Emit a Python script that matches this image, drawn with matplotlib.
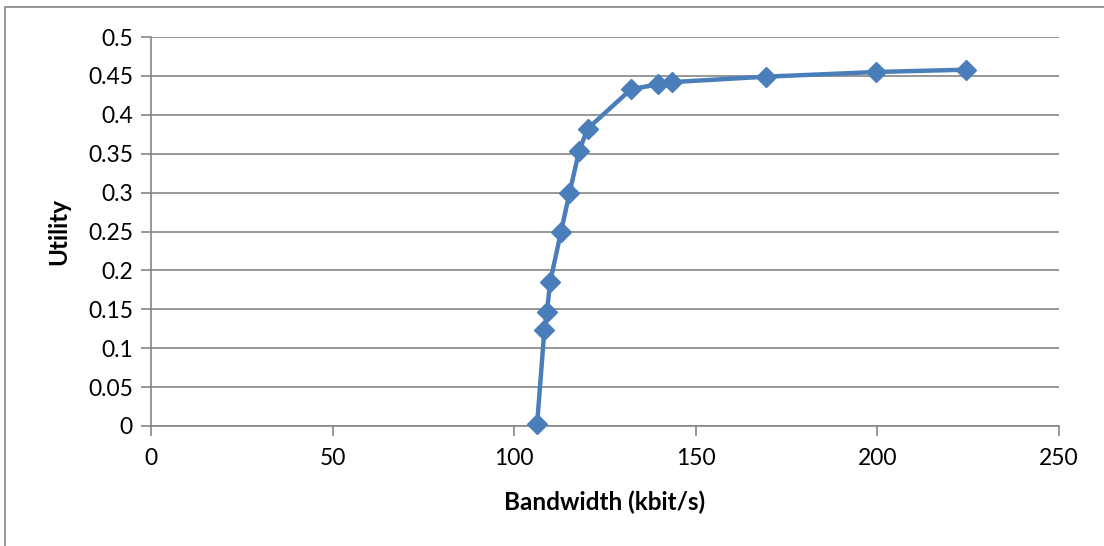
import matplotlib
matplotlib.use("Agg")
import matplotlib.pyplot as plt
from matplotlib.patches import Rectangle

# --- data ---
bandwidth = [106.3, 108.3, 109.0, 109.9, 112.9, 115.2, 117.9, 120.2,
             132.2, 139.6, 143.4, 169.3, 199.5, 224.5]
utility = [0.002, 0.123, 0.146, 0.185, 0.250, 0.299, 0.354, 0.382,
           0.433, 0.439, 0.442, 0.449, 0.455, 0.458]
x_ticks = [0, 50, 100, 150, 200, 250]
y_ticks = [0, 0.05, 0.1, 0.15, 0.2, 0.25, 0.3, 0.35, 0.4, 0.45, 0.5]
y_tick_labels = ["0", "0.05", "0.1", "0.15", "0.2", "0.25", "0.3", "0.35", "0.4", "0.45", "0.5"]

plt.rcParams['font.family'] = ['Lato', 'DejaVu Sans']

W, H = 1104, 546
fig = plt.figure(figsize=(W / 100, H / 100), dpi=100)

# chart-area frame (only left and top edges visible in the crop)
fig.patches.append(Rectangle((5 / W, -0.1), 1.2, 1 - 7 / H + 0.1,
                             transform=fig.transFigure, fill=False,
                             edgecolor='#8c8c8c', linewidth=1.3))

ax = fig.add_axes([151 / W, 1 - 426 / H, (1059 - 151) / W, (426 - 37) / H])

grid_col = '#868686'
ax.plot(bandwidth, utility, color='#4a7ebb', linewidth=3.2,
        marker='D', markersize=10, markerfacecolor='#4a7ebb',
        markeredgecolor='#4a7ebb', zorder=3, clip_on=False)

ax.set_xlim(0, 250)
ax.set_ylim(0, 0.5)
ax.set_xticks(x_ticks)
ax.set_yticks(y_ticks)
ax.set_yticklabels(y_tick_labels)
ax.yaxis.grid(True, color=grid_col, linewidth=1.2)
ax.set_axisbelow(True)

for s in ['top', 'right']:
    ax.spines[s].set_visible(False)
for s in ['left', 'bottom']:
    ax.spines[s].set_color(grid_col)
    ax.spines[s].set_linewidth(1.2)

ax.tick_params(axis='both', direction='out', length=7, width=1.2,
               color=grid_col, labelsize=16.5, labelcolor='black')
ax.tick_params(axis='y', pad=6)
ax.tick_params(axis='x', pad=9)

ax.set_xlabel("Bandwidth (kbit/s)", fontsize=17.5, fontweight='bold', labelpad=15)
ax.set_ylabel("Utility", fontsize=17.5, fontweight='bold', labelpad=13)

fig.savefig("out.png", dpi=100)
